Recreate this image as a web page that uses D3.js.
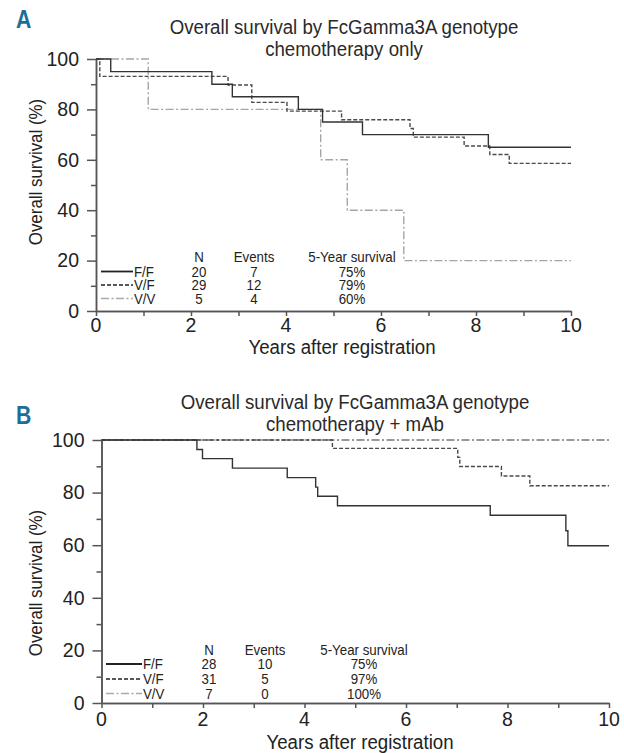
<!DOCTYPE html>
<html>
<head>
<meta charset="utf-8">
<script src="https://cdn.jsdelivr.net/npm/d3@7"></script>
<style>
  body { margin: 0; background: #fff; }
  svg text { font-family: "Liberation Sans", Arial, sans-serif; fill: #222; }
</style>
</head>
<body>
<svg id="chart" width="624" height="753"></svg>
<script>
// DATA
const genotypes = ["F/F", "V/F", "V/V"];
const xTickValues = [0, 2, 4, 6, 8, 10];
const xMinorValues = [1, 3, 5, 7, 9];
const yTickValues = [0, 20, 40, 60, 80, 100];
const yMinorValues = [10, 30, 50, 70, 90];
const legendHeader = ["N", "Events", "5-Year survival"];

// panel A: chemotherapy only (time in years, survival % after that time)
const aTitle = ["Overall survival by FcGamma3A genotype", "chemotherapy only"];
const aFFTime = [0, 0.31, 2.44, 2.87, 4.26, 4.77, 5.61, 8.26, 10];
const aFFSurv = [100, 95, 90, 85, 80, 75, 70, 65, 65];
const aVFTime = [0, 0.08, 2.78, 3.28, 4.02, 5.17, 6.61, 6.68, 7.75, 8.29, 8.70, 10];
const aVFSurv = [100, 93.1, 89.7, 82.8, 79.3, 75.9, 72.4, 69.0, 65.5, 62.1, 58.6, 58.6];
const aVVTime = [0, 1.10, 4.73, 5.29, 6.48, 10];
const aVVSurv = [100, 80, 60, 40, 20, 20];
const aN = [20, 29, 5];
const aEvents = [7, 12, 4];
const aFiveYear = ["75%", "79%", "60%"];

// panel B: chemotherapy + mAb
const bTitle = ["Overall survival by FcGamma3A genotype", "chemotherapy + mAb"];
const bFFTime = [0, 1.88, 1.99, 2.58, 3.66, 4.22, 4.26, 4.65, 7.66, 9.15, 9.19, 10];
const bFFSurv = [100, 96.4, 92.9, 89.3, 85.7, 82.1, 78.6, 75.0, 71.4, 65.5, 59.8, 59.8];
const bVFTime = [0, 4.55, 7.02, 7.06, 7.88, 8.44, 10];
const bVFSurv = [100, 96.8, 93.4, 89.9, 86.3, 82.6, 82.6];
const bVVTime = [0, 10];
const bVVSurv = [100, 100];
const bN = [28, 31, 7];
const bEvents = [10, 5, 0];
const bFiveYear = ["75%", "97%", "100%"];

// LAYOUT / STYLE
const lineStyles = {
  "F/F": { dash: null, color: "#333" },
  "V/F": { dash: "4,2", color: "#4a4a4a" },
  "V/V": { dash: "8,2.5,2,2.5", color: "#9a9a9a" }
};

const panels = [
  {
    letter: "A", letterY: 28, title: aTitle, titleX: 344, titleY: [34, 56],
    x0: 96, x1: 571, y0: 311, y1: 59,
    series: { "F/F": [aFFTime, aFFSurv], "V/F": [aVFTime, aVFSurv], "V/V": [aVVTime, aVVSurv] },
    vvColor: "#a5a5a5",
    n: aN, events: aEvents, fiveYear: aFiveYear,
    legendRows: [262, 276.5, 290, 303.5], legendLine: [101, 133], legendCols: [199, 254, 352],
    tickLabelY: 332, xTitleX: 342, xTitleY: 354, yTitleX: 42, yTitleY: 172
  },
  {
    letter: "B", letterY: 424, title: bTitle, titleX: 355, titleY: [409, 431],
    x0: 101.5, x1: 609, y0: 703, y1: 440,
    series: { "F/F": [bFFTime, bFFSurv], "V/F": [bVFTime, bVFSurv], "V/V": [bVVTime, bVVSurv] },
    vvColor: "#777",
    n: bN, events: bEvents, fiveYear: bFiveYear,
    legendRows: [655, 669, 684, 698.5], legendLine: [106, 142], legendCols: [209, 265, 364],
    tickLabelY: 726, xTitleX: 360, xTitleY: 749, yTitleX: 42, yTitleY: 583
  }
];

const svg = d3.select("#chart");

panels.forEach(drawPanel);

// text squeezed horizontally to imitate the condensed face of the original
function addText(parent, x, y, str, size, sx, anchor, rotate) {
  return parent.append("text")
    .attr("transform", `translate(${x},${y})${rotate ? " rotate(" + rotate + ")" : ""} scale(${sx},1)`)
    .attr("text-anchor", anchor || "start")
    .style("font-size", size + "px")
    .text(str);
}

function drawPanel(p) {
  const g = svg.append("g");

  const x = d3.scaleLinear().domain([0, 10]).range([p.x0, p.x1]);
  const y = d3.scaleLinear().domain([0, 100]).range([p.y0, p.y1]);

  // panel letter
  addText(g, 16, p.letterY, p.letter, 25, 0.85)
    .style("font-weight", "bold")
    .style("fill", "#1c6e98");

  // title
  p.title.forEach((t, i) => {
    addText(g, p.titleX, p.titleY[i], t, 21, 0.89, "middle").style("fill", "#2a2a2a");
  });

  // axes
  const yAxis = g.append("g")
    .attr("transform", `translate(${p.x0},0)`)
    .call(d3.axisLeft(y).tickValues(yTickValues).tickSize(9).tickSizeOuter(0).tickPadding(8));
  g.append("g")
    .attr("transform", `translate(${p.x0},0)`)
    .call(d3.axisLeft(y).tickValues(yMinorValues).tickSize(5).tickSizeOuter(0).tickFormat(""));

  const xAxis = g.append("g")
    .attr("transform", `translate(0,${p.y0})`)
    .call(d3.axisBottom(x).tickValues(xTickValues).tickSize(5).tickSizeOuter(0));
  g.append("g")
    .attr("transform", `translate(0,${p.y0})`)
    .call(d3.axisBottom(x).tickValues(xMinorValues).tickSize(5).tickSizeOuter(0).tickFormat(""));

  g.selectAll(".domain, .tick line")
    .attr("stroke", "#555")
    .attr("stroke-width", 1.5);

  yAxis.selectAll(".tick text")
    .style("font-size", "19.5px")
    .style("font-family", "'Liberation Sans', Arial, sans-serif")
    .style("fill", "#222");

  xAxis.selectAll(".tick text").remove();
  xTickValues.forEach(v => {
    addText(g, x(v), p.tickLabelY, v, 19.5, 1, "middle");
  });

  // axis titles
  addText(g, p.xTitleX, p.xTitleY, "Years after registration", 21, 0.89, "middle");
  addText(g, p.yTitleX, p.yTitleY, "Overall survival (%)", 19, 0.89, "middle", -90);

  // survival curves (step after each event)
  const line = d3.line()
    .x(d => x(d[0]))
    .y(d => y(d[1]))
    .curve(d3.curveStepAfter);

  ["V/V", "V/F", "F/F"].forEach(key => {
    const [times, surv] = p.series[key];
    const pts = times.map((t, i) => [t, surv[i]]);
    const st = lineStyles[key];
    g.append("path")
      .datum(pts)
      .attr("d", line)
      .attr("fill", "none")
      .attr("stroke", key === "V/V" ? p.vvColor : st.color)
      .attr("stroke-width", 1.4)
      .attr("stroke-dasharray", st.dash);
  });

  // legend table
  const lg = g.append("g");
  legendHeader.forEach((h, i) => {
    addText(lg, p.legendCols[i], p.legendRows[0], h, 14, 0.95, "middle");
  });

  genotypes.forEach((key, i) => {
    const ry = p.legendRows[i + 1];
    const st = lineStyles[key];
    lg.append("line")
      .attr("x1", p.legendLine[0]).attr("x2", p.legendLine[1])
      .attr("y1", ry - 5).attr("y2", ry - 5)
      .attr("stroke", key === "V/V" ? "#aaa" : "#222")
      .attr("stroke-width", key === "F/F" ? 1.8 : 1.5)
      .attr("stroke-dasharray", st.dash);
    addText(lg, p.legendLine[1] + 1, ry, key, 14, 0.95);
    [p.n[i], p.events[i], p.fiveYear[i]].forEach((v, j) => {
      addText(lg, p.legendCols[j], ry, v, 14, 0.95, "middle");
    });
  });
}
</script>
</body>
</html>
